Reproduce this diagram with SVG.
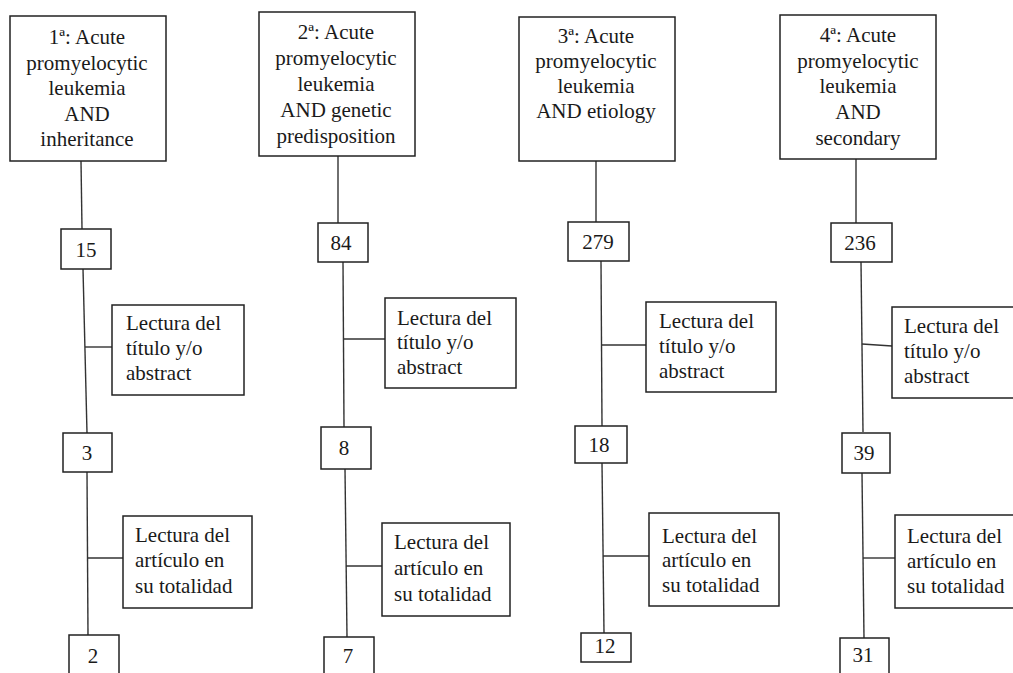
<svg xmlns="http://www.w3.org/2000/svg" width="1013" height="673" viewBox="0 0 1013 673">
<style>
rect{fill:#fff;stroke:#222;stroke-width:1.5}
line{stroke:#333;stroke-width:1.4}
text{font-family:"Liberation Serif","Times New Roman",serif;font-size:21px;fill:#1a1a1a}
.c{text-anchor:middle}
</style>
<rect x="0" y="0" width="1013" height="673" style="stroke:none"/>
<g id="connectors">
<line x1="81" y1="161" x2="82" y2="229"/>
<line x1="83" y1="269" x2="87" y2="433"/>
<line x1="85" y1="347" x2="112" y2="347"/>
<line x1="87" y1="472" x2="88" y2="635"/>
<line x1="88" y1="558" x2="123" y2="558"/>
<line x1="338" y1="156" x2="338" y2="223"/>
<line x1="343" y1="262" x2="344" y2="427"/>
<line x1="344" y1="339" x2="385" y2="339"/>
<line x1="345" y1="469" x2="347" y2="637"/>
<line x1="346" y1="566" x2="382" y2="566"/>
<line x1="596" y1="158" x2="596" y2="222"/>
<line x1="601" y1="261" x2="602" y2="426"/>
<line x1="602" y1="345" x2="646" y2="345"/>
<line x1="602" y1="463" x2="604" y2="633"/>
<line x1="603" y1="556" x2="649" y2="556"/>
<line x1="856" y1="159" x2="856" y2="223"/>
<line x1="861" y1="262" x2="863" y2="432"/>
<line x1="862" y1="344" x2="892" y2="346"/>
<line x1="862" y1="473" x2="864" y2="638"/>
<line x1="863" y1="558" x2="895" y2="558"/>
</g>
<g id="q1">
<rect x="10" y="16" width="156" height="145"/>
<text class="c" x="87" y="44">1ª: Acute</text>
<text class="c" x="87" y="69.5">promyelocytic</text>
<text class="c" x="87" y="95">leukemia</text>
<text class="c" x="87" y="120.5">AND</text>
<text class="c" x="87" y="146">inheritance</text>
</g>
<g id="n15"><rect x="61" y="229" width="50" height="40"/><text class="c" x="86" y="257">15</text></g>
<g id="s1a"><rect x="112" y="305" width="132" height="90"/>
<text x="126" y="330">Lectura del</text><text x="126" y="355">título y/o</text><text x="126" y="380">abstract</text></g>
<g id="n3"><rect x="63" y="433" width="49" height="39"/><text class="c" x="87" y="460">3</text></g>
<g id="s1b"><rect x="123" y="516" width="129" height="92"/>
<text x="135" y="542">Lectura del</text><text x="135" y="567">artículo en</text><text x="135" y="593">su totalidad</text></g>
<g id="n2"><rect x="69" y="635" width="50" height="50"/><text class="c" x="93" y="663">2</text></g>

<g id="q2">
<rect x="259" y="12" width="156" height="144"/>
<text class="c" x="336" y="38.5">2ª: Acute</text>
<text class="c" x="336" y="64.5">promyelocytic</text>
<text class="c" x="336" y="90.5">leukemia</text>
<text class="c" x="336" y="116.5">AND genetic</text>
<text class="c" x="336" y="142.5">predisposition</text>
</g>
<g id="n84"><rect x="318" y="223" width="50" height="39"/><text class="c" x="341" y="250">84</text></g>
<g id="s2a"><rect x="385" y="298" width="131" height="90"/>
<text x="397" y="325">Lectura del</text><text x="397" y="349">título y/o</text><text x="397" y="374">abstract</text></g>
<g id="n8"><rect x="321" y="427" width="50" height="42"/><text class="c" x="344" y="455">8</text></g>
<g id="s2b"><rect x="382" y="523" width="128" height="93"/>
<text x="394" y="549">Lectura del</text><text x="394" y="575">artículo en</text><text x="394" y="601">su totalidad</text></g>
<g id="n7"><rect x="324" y="637" width="50" height="50"/><text class="c" x="348" y="663">7</text></g>

<g id="q3">
<rect x="519" y="17" width="156" height="144"/>
<text class="c" x="596" y="43">3ª: Acute</text>
<text class="c" x="596" y="68">promyelocytic</text>
<text class="c" x="596" y="93">leukemia</text>
<text class="c" x="596" y="118">AND etiology</text>
</g>
<g id="n279"><rect x="568" y="222" width="61" height="39"/><text class="c" x="598" y="249">279</text></g>
<g id="s3a"><rect x="646" y="302" width="130" height="90"/>
<text x="659" y="328">Lectura del</text><text x="659" y="353">título y/o</text><text x="659" y="378">abstract</text></g>
<g id="n18"><rect x="575" y="426" width="52" height="37"/><text class="c" x="599" y="452">18</text></g>
<g id="s3b"><rect x="649" y="513" width="130" height="93"/>
<text x="662" y="543">Lectura del</text><text x="662" y="567">artículo en</text><text x="662" y="592">su totalidad</text></g>
<g id="n12"><rect x="581" y="633" width="50" height="29"/><text class="c" x="605" y="653">12</text></g>

<g id="q4">
<rect x="780" y="15" width="156" height="144"/>
<text class="c" x="858" y="42">4ª: Acute</text>
<text class="c" x="858" y="68">promyelocytic</text>
<text class="c" x="858" y="93">leukemia</text>
<text class="c" x="858" y="119">AND</text>
<text class="c" x="858" y="145">secondary</text>
</g>
<g id="n236"><rect x="831" y="223" width="61" height="39"/><text class="c" x="860" y="250">236</text></g>
<g id="s4a"><rect x="892" y="307" width="128" height="91"/>
<text x="904" y="333">Lectura del</text><text x="904" y="358">título y/o</text><text x="904" y="383">abstract</text></g>
<g id="n39"><rect x="842" y="433" width="48" height="40"/><text class="c" x="864" y="460">39</text></g>
<g id="s4b"><rect x="895" y="515" width="125" height="93"/>
<text x="907" y="543">Lectura del</text><text x="907" y="568">artículo en</text><text x="907" y="593">su totalidad</text></g>
<g id="n31"><rect x="840" y="638" width="49" height="50"/><text class="c" x="863" y="662">31</text></g>
</svg>
